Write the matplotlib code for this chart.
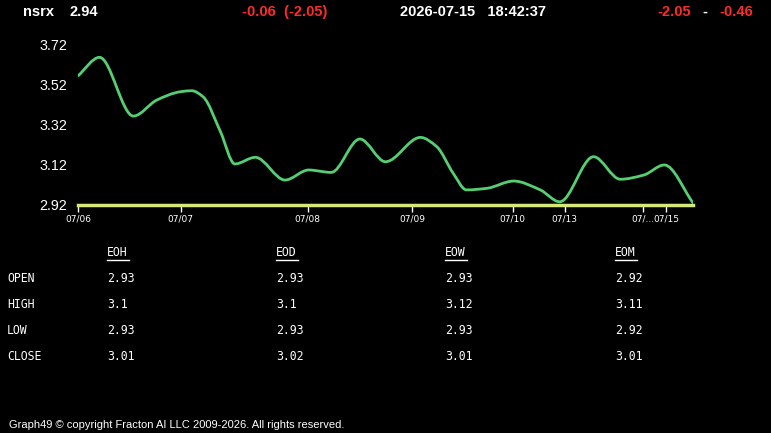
import numpy as np
import matplotlib.pyplot as plt
from matplotlib.path import Path
from matplotlib.patches import PathPatch

# price series (x = sample position, y = price)
pos = [0.0, 2.1, 5.4, 7.7, 10.0, 11.1, 12.2, 13.9, 15.3, 17.3, 20.2, 22.5, 24.7,
       27.5, 30.0, 33.4, 35.0, 36.6, 37.9, 39.9, 42.5, 45.1, 47.0, 50.3, 52.9,
       55.2, 57.2, 60.0]
price = [3.562, 3.654, 3.362, 3.442, 3.483, 3.488, 3.458, 3.284, 3.124, 3.157,
         3.044, 3.094, 3.082, 3.248, 3.135, 3.256, 3.210, 3.078, 2.995, 3.003,
         3.039, 2.995, 2.936, 3.160, 3.048, 3.069, 3.119, 2.931]

tick_pos = [0.0, 10.0, 22.4, 32.6, 42.4, 47.5, 55.1, 57.4]
tick_labels = ['07/06', '07/07', '07/08', '07/09', '07/10', '07/13', '07/...', '07/15']
y_ticks = [2.92, 3.12, 3.32, 3.52, 3.72]
baseline = 2.92

row_names = ['OPEN', 'HIGH', 'LOW', 'CLOSE']
col_names = ['EOH', 'EOD', 'EOW', 'EOM']
table_vals = {
    'EOH': ['2.93', '3.1', '2.93', '3.01'],
    'EOD': ['2.93', '3.1', '2.93', '3.02'],
    'EOW': ['2.93', '3.12', '2.93', '3.01'],
    'EOM': ['2.92', '3.11', '2.92', '3.01'],
}

W, H = 771, 433
fig = plt.figure(figsize=(W / 100, H / 100), dpi=100, facecolor='black')

ax = fig.add_axes([78 / W, (H - 205) / H, 615 / W, 170 / H])
ax.set_facecolor('black')
ax.set_xlim(0, 60)
ax.set_ylim(2.92, 3.765)
for s in ax.spines.values():
    s.set_visible(False)

# smooth monotone curve through the points, drawn as cubic Bezier segments
x = np.array(pos)
y = np.array(price)
h = np.diff(x)
d = np.diff(y) / h
m = np.zeros_like(y)
m[0], m[-1] = d[0], d[-1]
for i in range(1, len(y) - 1):
    if d[i - 1] * d[i] > 0:
        w1, w2 = 2 * h[i] + h[i - 1], h[i] + 2 * h[i - 1]
        m[i] = (w1 + w2) / (w1 / d[i - 1] + w2 / d[i])
verts = [(x[0], y[0])]
codes = [Path.MOVETO]
for i in range(len(x) - 1):
    verts += [(x[i] + h[i] / 3, y[i] + m[i] * h[i] / 3),
              (x[i + 1] - h[i] / 3, y[i + 1] - m[i + 1] * h[i] / 3),
              (x[i + 1], y[i + 1])]
    codes += [Path.CURVE4] * 3
ax.add_patch(PathPatch(Path(verts, codes), fill=False, edgecolor='#55cf72', lw=2, capstyle='round'))

ax.axhline(baseline, color='#d6e87a', lw=2.5, clip_on=False)

ax.set_yticks(y_ticks)
ax.set_yticklabels([f'{v:.2f}' for v in y_ticks], color='white', fontsize=10.3, family='Liberation Sans')
ax.tick_params(axis='y', length=0, pad=8)
ax.set_xticks(tick_pos)
ax.set_xticklabels(tick_labels, color='white', fontsize=6.5, family='DejaVu Sans')
ax.tick_params(axis='x', colors='white', length=5, width=1, pad=1.5, direction='out')


def put(x, y, s, color='white', size=10.5, weight='bold', family='Liberation Sans'):
    fig.text(x / W, 1 - y / H, s, color=color, fontsize=size, weight=weight,
             family=family, va='center', ha='left')


red = '#ff2a2a'
put(23, 12, 'nsrx')
put(70, 12, '2.94')
put(242, 12, '-0.06  (-2.05)', color=red)
put(400, 12, '2026-07-15   18:42:37')
put(657, 12, '-2.05', color=red)
put(702, 12, '-')
put(719, 12, '-0.46', color=red)

# OHLC table
col_x = [107, 276, 445, 615]
row_y = [279, 305, 330, 356]
mono = dict(size=8.3, weight='normal', family='DejaVu Sans Mono')
for name, yy in zip(row_names, row_y):
    put(7, yy, name, **mono)
for c, xx in zip(col_names, col_x):
    put(xx, 253, c, **mono)
    fig.add_artist(plt.Line2D([xx / W, (xx + 22) / W], [1 - 260 / H, 1 - 260 / H],
                              color='white', lw=1))
    for v, yy in zip(table_vals[c], row_y):
        put(xx, yy, v, **mono)

put(9, 425, 'Graph49 \u00a9 copyright Fracton AI LLC 2009-2026. All rights reserved.',
    size=8, weight='normal', family='Liberation Sans')

fig.savefig('out.png', dpi=100, facecolor='black')
